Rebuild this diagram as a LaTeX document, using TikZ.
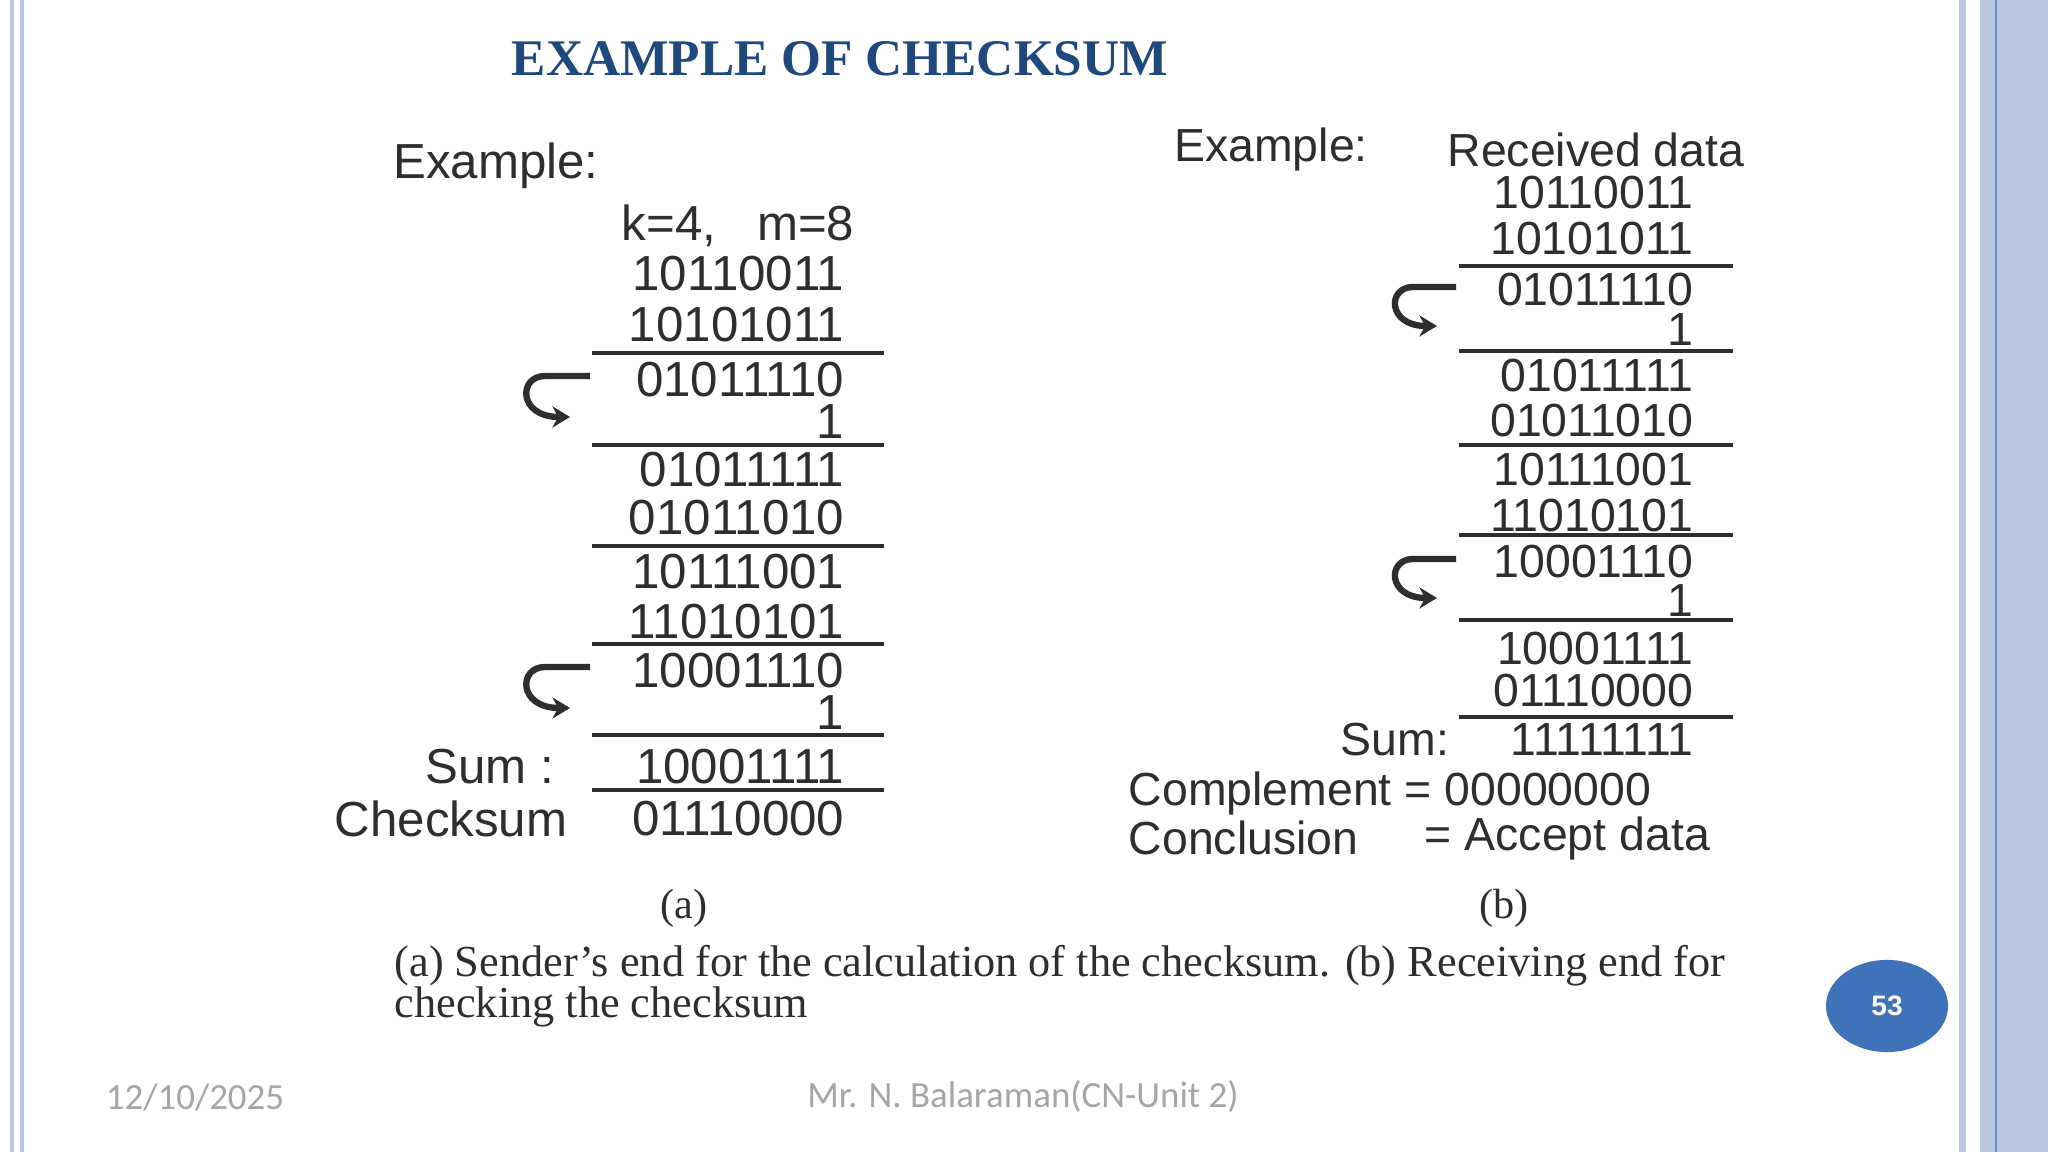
\documentclass[tikz,border=0pt]{standalone}
\usepackage{fontspec}
\setmainfont{Liberation Serif}
\setsansfont{Liberation Sans}
\newfontfamily\footfont{Carlito}
\usetikzlibrary{arrows.meta,shapes.geometric}
\definecolor{ttl}{HTML}{1F497D}
\definecolor{band}{HTML}{B9C8E0}
\definecolor{txt}{HTML}{2E2E2E}
\definecolor{foot}{HTML}{A6A6A6}
\definecolor{badge}{HTML}{3F73B9}
\tikzset{
 num/.style={font=\sffamily\fontsize{14}{16}\selectfont, text=txt, inner sep=0pt, anchor=east},
 numb/.style={font=\sffamily\fontsize{13.2}{16}\selectfont, text=txt, inner sep=0pt, anchor=east},
 lbl/.style={font=\sffamily\fontsize{14}{16}\selectfont, text=txt, inner sep=0pt},
 lblb/.style={font=\sffamily\fontsize{13.2}{16}\selectfont, text=txt, inner sep=0pt},
 rule/.style={line width=0.9pt, draw=txt},
 carry/.style={line width=1.8pt, draw=txt, -{Stealth[length=5pt,width=6pt]}},
}
\begin{document}
\begin{tikzpicture}[x=0.01cm,y=-0.01cm]
\useasboundingbox (0,0) rectangle (2048,1152);
\fill[white] (0,0) rectangle (2048,1152);
% frame
\fill[band] (10,0) rectangle (14,1152);
\fill[band] (20,0) rectangle (24,1152);
\fill[band] (1959,0) rectangle (1966,1152);
\fill[band] (1980,0) rectangle (2048,1152);
\draw[badge!80,line width=0.6pt] (1996,0) -- (1996,1152);
% title
\node (title) at (840,59) {\fontsize{14.6}{18}\selectfont\bfseries\color{ttl}EXAMPLE OF CHECKSUM};
% ---- left panel
\node[lbl] (exa) at (496,166) {Example:};
\node[lbl] (km) at (738,226) {k=4,\ \ \ m=8};
\foreach \y/\t [count=\i] in {274/10110011,325/10101011,380/01011110,422/1,470/01011111,518/01011010,572/10111001,622/11010101,671/10001110,713/1,767/10001111,819/01110000}
  \node[num] (a\i) at (845,\y) {\t};
\foreach \y in {353,445,546,644,735,790}
  \draw[rule] (592,\y) -- (884,\y);
\node[lbl,anchor=east] (suma) at (555,767) {Sum :};
\node[lbl,anchor=east] (chka) at (568,819) {Checksum};
\coordinate (c1s) at (590,376); \coordinate (c1e) at (570,417);
\draw[carry] (c1s) -- (545,376) .. controls (518,376) and (518,417) .. (c1e);
\coordinate (c2s) at (590,667); \coordinate (c2e) at (570,708);
\draw[carry] (c2s) -- (545,667) .. controls (518,667) and (518,708) .. (c2e);
% ---- right panel
\node[lblb] (exb) at (1271,150) {Example:};
\node[lblb] (rd) at (1596,150) {Received data};
\foreach \y/\t [count=\i] in {193/10110011,239/10101011,290/01011110,330/1,376/01011111,421/01011010,470/10111001,516/11010101,562/10001110,601/1,649/10001111,691/01110000}
  \node[numb] (b\i) at (1694,\y) {\t};
\foreach \y in {266,351,445,535,620,717}
  \draw[rule] (1459,\y) -- (1733,\y);
\node[lblb,anchor=east] (sumb) at (1450,740) {Sum:};
\node[numb] (sumv) at (1694,740) {11111111};
\node[lblb,anchor=west] (comp) at (1128,793) {Complement = 00000000};
\node[lblb,anchor=west] (conc) at (1128,838) {Conclusion};
\node[lblb,anchor=west] (acc) at (1424,838) {= Accept data};
\coordinate (d1s) at (1456,287); \coordinate (d1e) at (1437,326);
\draw[carry] (d1s) -- (1413,287) .. controls (1387,287) and (1387,326) .. (d1e);
\coordinate (d2s) at (1456,559); \coordinate (d2e) at (1437,598);
\draw[carry] (d2s) -- (1413,559) .. controls (1387,559) and (1387,598) .. (d2e);
% captions
\node (capa) at (684,908) {\fontsize{12}{14}\selectfont\color{txt}(a)};
\node (capb) at (1504,908) {\fontsize{12}{14}\selectfont\color{txt}(b)};
\node[anchor=west,inner sep=0pt,align=left,text=txt,font=\fontsize{12.6}{11.6}\selectfont] (cap) at (394,986)
 {(a) Sender’s end for the calculation of the checksum. (b) Receiving end for\\checking the checksum};
% badge
\node[ellipse,fill=badge,minimum width=34.7pt,minimum height=26.2pt,inner sep=0pt] (badge) at (1887,1006) {};
\node[text=white,font=\sffamily\bfseries\fontsize{8}{10}\selectfont] (pg) at (badge) {53};
% footer
\node[text=foot,font=\footfont\fontsize{10.5}{12}\selectfont] (date) at (195,1097) {12/10/2025};
\node[text=foot,font=\footfont\fontsize{10.5}{12}\selectfont] (auth) at (1023,1097) {Mr. N. Balaraman(CN-Unit 2)};
\end{tikzpicture}
\end{document}
